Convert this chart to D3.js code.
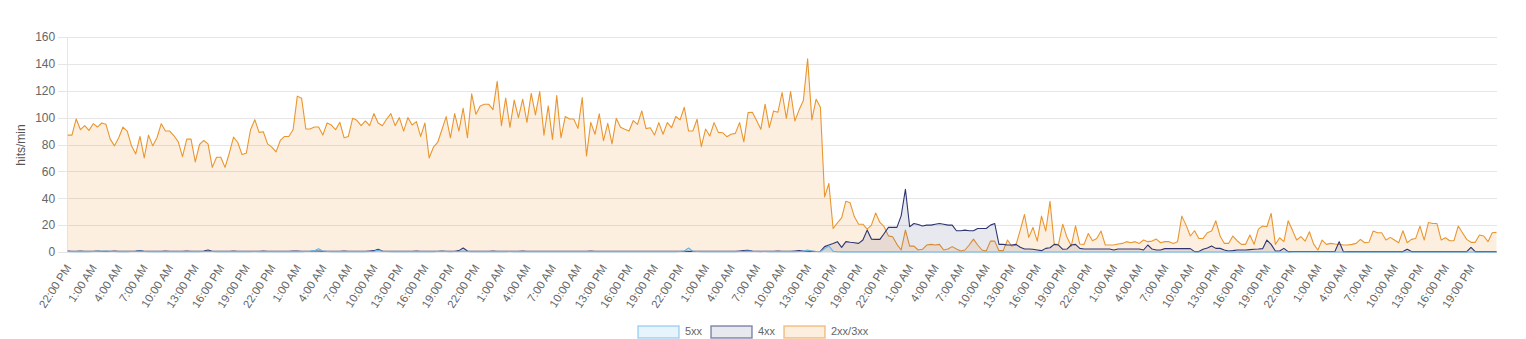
<!DOCTYPE html>
<html>
<head>
<meta charset="utf-8">
<script src="https://cdn.jsdelivr.net/npm/d3@7"></script>
<style>
  html, body { margin: 0; padding: 0; background: #fff; }
  svg { display: block; font-family: "Liberation Sans", Arial, Helvetica, sans-serif; }
</style>
</head>
<body>
<svg id="chart" width="1526" height="339"></svg>
<script>
// ---- tick labels (one every 3 hours, every 6th half-hour sample) ----
const hourLabels = ["22:00 PM","1:00 AM","4:00 AM","7:00 AM","10:00 AM","13:00 PM","16:00 PM","19:00 PM"];
const dayCount = 7;
const yTicks = [0, 20, 40, 60, 80, 100, 120, 140, 160];
const seriesNames = ["5xx", "4xx", "2xx/3xx"];

// ---- series values (hits/min, one sample every 30 minutes) ----
const ok2xx3xx = [
  87, 87, 99, 91, 94, 90.5, 95.5, 93, 96, 95,
  84, 79, 85, 93, 90, 79, 73, 86, 70, 87,
  79, 85, 95.5, 90, 90, 86.5, 82, 71, 84, 84,
  67, 80, 83, 80.5, 63, 70.5, 70.5, 63, 73.5, 85.5,
  81.5, 72.5, 73.5, 91, 98.5, 89, 89.5, 80.5, 78, 74.5,
  83, 86, 86, 91, 116, 114.5, 91.5, 91.5, 93, 93,
  87, 96, 94.5, 91, 96.5, 85, 86, 99.5, 98, 94,
  97.5, 94, 103, 96, 94, 99, 103, 94, 100, 90,
  100, 94.5, 97, 86, 96, 70, 78, 81.5, 91, 100.8,
  85, 103, 90, 107, 85, 117.7, 102.5, 108.7, 110, 110,
  106, 127, 94, 114.6, 92.8, 113, 100, 113.7, 96.5, 118,
  102, 119.4, 87, 108.7, 83.8, 116.4, 85, 100.8, 99, 99,
  92, 115, 71.4, 96.5, 87.6, 102.8, 82.8, 95.8, 80.4, 99.5,
  92.8, 91.3, 90, 97.8, 95, 105, 91.8, 92.5, 87, 96.3,
  87.6, 96.3, 92.5, 100.8, 98.3, 107.7, 90, 90, 98.8, 78.4,
  91.5, 86.3, 96.3, 89, 88.8, 85.8, 87.6, 88.3, 96.3, 82,
  103.7, 104, 97.8, 91.3, 110, 92.5, 105, 104, 118.7, 99.5,
  119.4, 97.5, 105.8, 112.7, 143.8, 98.3, 113.7, 107.7, 41, 51,
  17.5, 21.7, 25.4, 37.8, 36.6, 26.2, 20.7, 20.7, 17, 20,
  29, 22, 18.8, 12, 11.4, 5.7, 1.5, 16.3, 4.4, 4.4,
  1.5, 2, 5.2, 5.7, 5.2, 5.7, 1.5, 2.2, 4, 2.2,
  0.7, 1.5, 5.2, 9.6, 5.2, 1.5, 0.7, 8.1, 8.1, 1,
  1, 8.9, 4.4, 5.2, 16.3, 27.9, 10.9, 18.3, 8.1, 26.7,
  15.6, 37.8, 5.7, 5.7, 20.7, 10.9, 4.4, 19.5, 5.9, 5.7,
  13.8, 8.4, 10.1, 15.6, 5.2, 5.2, 5.2, 5.9, 6.4, 7.7,
  6.9, 7.7, 6.4, 8.9, 7.7, 8.1, 9.6, 6.9, 7.7, 7.7,
  6.4, 7.7, 26.7, 20, 11.9, 15.8, 10.1, 10.1, 14.3, 15.6,
  23.2, 11.9, 6.4, 6.4, 11.9, 8.4, 5.7, 5.7, 12.6, 5.7,
  17, 19.3, 18.8, 28.7, 5.7, 10.6, 7.7, 23.2, 16.3, 8.9,
  11.4, 8.1, 15.1, 5.9, 1.5, 8.9, 5.7, 6.4, 5.9, 5.7,
  5.2, 5.2, 5.7, 6.4, 9.4, 6.9, 7.2, 15.6, 14.3, 14.3,
  8.9, 10.9, 8.9, 6.9, 15.8, 6.9, 9.4, 10.1, 19.3, 8.9,
  22, 21.2, 21.2, 8.9, 10.6, 8.4, 8.4, 19.3, 14.3, 9.4,
  7.2, 7.2, 12.6, 11.9, 7.7, 14.3, 14.6
];

const err4xx = [
  0.8, 0.6, 0.5, 0.7, 0.6, 0.5, 0.6, 0.8, 0.6, 0.5,
  0.6, 0.7, 0.5, 0.6, 0.6, 0.5, 0.7, 1.0, 0.6, 0.5,
  0.6, 0.5, 0.6, 0.7, 0.5, 0.6, 0.5, 0.6, 0.7, 0.5,
  0.6, 0.5, 0.8, 1.5, 0.6, 0.5, 0.6, 0.5, 0.6, 0.7,
  0.5, 0.6, 0.5, 0.6, 0.6, 0.5, 0.7, 0.6, 0.5, 0.6,
  0.6, 0.5, 0.6, 0.7, 0.8, 0.6, 0.5, 0.6, 0.7, 0.8,
  0.6, 0.5, 0.6, 0.5, 0.6, 0.7, 0.6, 0.5, 0.6, 0.5,
  0.6, 0.8, 1.0, 2.0, 0.8, 0.6, 0.5, 0.6, 0.5, 0.6,
  0.6, 0.5, 0.7, 0.6, 0.5, 0.6, 0.5, 0.6, 0.7, 0.6,
  0.5, 0.6, 1.0, 3.0, 0.8, 0.6, 0.5, 0.6, 0.5, 0.6,
  0.7, 0.6, 0.5, 0.6, 0.6, 0.5, 0.6, 0.7, 0.6, 0.5,
  0.6, 0.5, 0.6, 0.6, 0.5, 0.6, 0.6, 0.5, 0.6, 0.5,
  0.6, 0.5, 0.6, 0.7, 0.6, 0.5, 0.6, 0.5, 0.6, 0.6,
  0.5, 0.6, 0.5, 0.6, 0.5, 0.6, 0.6, 0.5, 0.6, 0.5,
  0.6, 0.5, 0.6, 0.5, 0.6, 0.6, 0.5, 0.6, 0.5, 0.6,
  0.5, 0.6, 0.5, 0.6, 0.5, 0.6, 0.6, 0.5, 0.8, 1.0,
  1.2, 0.8, 0.6, 0.5, 0.6, 0.5, 0.6, 0.7, 0.6, 0.5,
  0.6, 0.8, 1.0, 0.8, 0.6, 0.5, 0.4, 0.5, 4, 5.2,
  6.4, 7.7, 3.5, 7.7, 7.2, 6.9, 6.4, 8.9, 16.3, 9.6,
  9.4, 9.4, 13.8, 18.3, 18.3, 18.3, 26.9, 46.7, 18.8, 21.2,
  20.5, 19.3, 20, 20, 20.7, 21.2, 20.7, 20, 20, 15.8,
  15.8, 16.3, 15.8, 15.8, 17.5, 17.5, 17.5, 20, 21.2, 5.7,
  5.7, 5.2, 5.2, 5.7, 3.5, 2.2, 2.2, 2, 1.5, 1,
  2.7, 3.2, 5.7, 5.2, 2, 2.2, 5.2, 5.7, 2.7, 2.2,
  2.2, 2.2, 2.2, 2.2, 2.2, 2.2, 1.5, 2.2, 2.2, 2.2,
  2.2, 2.2, 2.2, 1.5, 5.2, 2.2, 1.5, 1.5, 2.5, 2.5,
  2.5, 2.5, 2.5, 2.5, 2.5, 0.3, 0.3, 2, 3, 4.4,
  2.7, 2.7, 1.5, 0.7, 1, 1.5, 1.5, 1.5, 1.8, 2,
  2.2, 2.5, 8.9, 5.7, 0.7, 0.7, 2.7, 0.3, 0.4, 0.4,
  0.4, 0.4, 0.4, 0.4, 0.4, 0.4, 0.4, 0.4, 0.4, 7.7,
  0.2, 0.3, 0.3, 0.3, 0.3, 0.3, 0.3, 0.3, 0.3, 0.3,
  0.3, 0.3, 0.3, 0.3, 0.3, 2, 0.3, 0.3, 0.3, 0.3,
  0.3, 0.3, 0.3, 0.3, 0.3, 0.3, 0.3, 0.3, 0.3, 0.3,
  3.5, 0.3, 0.3, 0.3, 0.3, 0.3, 0.3
];

const err5xx = [
  0.4, 0.3, 0.4, 0.3, 0.4, 0.3, 0.4, 0.5, 0.6, 0.8,
  0.5, 0.4, 0.3, 0.4, 0.3, 0.4, 0.5, 0.8, 0.4, 0.3,
  0.4, 0.3, 0.4, 0.3, 0.4, 0.3, 0.4, 0.3, 0.4, 0.3,
  0.4, 0.3, 0.4, 0.5, 0.4, 0.3, 0.4, 0.3, 0.4, 0.3,
  0.4, 0.3, 0.4, 0.3, 0.4, 0.3, 0.4, 0.3, 0.4, 0.3,
  0.4, 0.3, 0.4, 0.3, 0.4, 0.3, 0.4, 0.5, 1.0, 2.5,
  0.8, 0.4, 0.3, 0.4, 0.3, 0.4, 0.3, 0.4, 0.3, 0.4,
  0.3, 0.4, 0.6, 1.2, 0.5, 0.4, 0.3, 0.4, 0.3, 0.4,
  0.3, 0.4, 0.3, 0.4, 0.3, 0.4, 0.3, 0.4, 0.5, 0.4,
  0.3, 0.4, 0.5, 0.8, 0.4, 0.3, 0.4, 0.3, 0.4, 0.3,
  0.4, 0.3, 0.4, 0.3, 0.4, 0.3, 0.4, 0.3, 0.4, 0.3,
  0.4, 0.3, 0.4, 0.3, 0.4, 0.3, 0.4, 0.3, 0.4, 0.3,
  0.4, 0.3, 0.4, 0.3, 0.4, 0.3, 0.4, 0.3, 0.4, 0.3,
  0.4, 0.3, 0.4, 0.3, 0.4, 0.3, 0.4, 0.3, 0.4, 0.3,
  0.4, 0.3, 0.4, 0.3, 0.4, 0.8, 3.0, 0.6, 0.4, 0.3,
  0.4, 0.3, 0.4, 0.3, 0.4, 0.3, 0.4, 0.3, 0.4, 0.5,
  0.8, 0.5, 0.4, 0.3, 0.4, 0.3, 0.4, 0.3, 0.4, 0.3,
  0.4, 0.3, 0.4, 0.8, 1.5, 0.8, 0.4, 0.3, 2.5, 4.5,
  0.5, 0.2, 0.1, 0.1, 0.1, 0.1, 0.1, 0.1, 0.1, 0.1,
  0.1, 0.1, 0.1, 0.1, 0.1, 0.1, 0.1, 0.1, 0.1, 0.1,
  0, 0, 0, 0, 0, 0, 0, 0, 0, 0,
  0, 0, 0, 0, 0, 0, 0, 0, 0, 0,
  0, 0, 0, 0, 0, 0, 0, 0, 0, 0,
  0, 0, 0, 0, 0, 0, 0, 0, 0, 0,
  0, 0, 0, 0, 0, 0, 0, 0, 0, 0,
  0, 0, 0, 0, 0, 0, 0, 0, 0, 0,
  0, 0, 0, 0, 0, 0, 0, 0, 0, 0,
  0, 0, 0, 0, 0, 0, 0, 0, 0, 0,
  0, 0, 0, 0, 0, 0, 0, 0, 0, 0,
  0, 0, 0, 0, 0, 0, 0, 0, 0, 0,
  0, 0, 0, 0, 0, 0, 0, 0, 0, 0,
  0, 0, 0, 0, 0, 0, 0, 0, 0, 0,
  0, 0, 0, 0, 0, 0, 0, 0, 0, 0,
  0, 0, 0, 0, 0, 0, 0
];

// ---- layout / style ----
const margin = { left: 67.7, right: 1496.5, top: 37, bottom: 252 };
const colors = {
  "5xx":     { line: "#64b5e9", fill: "rgba(99,180,232,0.15)" },
  "4xx":     { line: "#2d3572", fill: "rgba(44,53,112,0.11)" },
  "2xx/3xx": { line: "#e9962f", fill: "rgba(240,150,50,0.15)" }
};
const textColor = "#666";
const gridColor = "#e6e6e6";

const n = ok2xx3xx.length;
const labels = [];
for (let d = 0; d < dayCount; d++) hourLabels.forEach(h => labels.push(h));

const svg = d3.select("#chart");
const x = d3.scaleLinear().domain([0, n - 1]).range([margin.left, margin.right]);
const y = d3.scaleLinear().domain([0, 160]).range([margin.bottom, margin.top]);

// grid lines + y tick labels
const yAxis = d3.axisLeft(y).tickValues(yTicks).tickSize(-(margin.right - margin.left)).tickPadding(0);
const gy = svg.append("g").attr("transform", `translate(${margin.left},0)`).call(yAxis);
gy.select(".domain").remove();
gy.selectAll(".tick line").attr("stroke", gridColor).attr("x1", -9.7).attr("shape-rendering", "crispEdges");
gy.selectAll(".tick text").attr("x", -12.5).attr("fill", textColor)
  .style("font-size", "12px").style("font-family", "'Liberation Sans', Arial, sans-serif");

// left axis line
svg.append("line").attr("x1", margin.left).attr("x2", margin.left)
  .attr("y1", margin.top).attr("y2", margin.bottom)
  .attr("stroke", gridColor).attr("shape-rendering", "crispEdges");

// y-axis title
svg.append("text").attr("transform", `translate(25,145) rotate(-90)`)
  .attr("text-anchor", "middle").attr("fill", "#555")
  .style("font-size", "12px").text("hits/min");

// x tick labels via axis
const tickIdx = labels.map((_, i) => i * 6);
const xAxis = d3.axisBottom(x).tickValues(tickIdx).tickSize(0)
  .tickFormat((d, i) => labels[i]);
const gx = svg.append("g").attr("transform", `translate(0,${margin.bottom})`).call(xAxis);
gx.select(".domain").remove();
gx.selectAll(".tick text")
  .attr("fill", textColor)
  .style("font-size", "11.5px").style("font-family", "'Liberation Sans', Arial, sans-serif")
  .attr("text-anchor", "end")
  .attr("dy", null).attr("y", null)
  .attr("transform", "translate(1,14) rotate(-57)")
  .attr("dominant-baseline", "middle");

// series (draw 2xx/3xx first, then 4xx, then 5xx on top)
const seriesData = { "5xx": err5xx, "4xx": err4xx, "2xx/3xx": ok2xx3xx };
const area = d3.area().x((d, i) => x(i)).y0(y(0)).y1(d => y(d));
const line = d3.line().x((d, i) => x(i)).y(d => y(d));
["2xx/3xx", "4xx", "5xx"].forEach(name => {
  const vals = seriesData[name];
  svg.append("path").attr("d", area(vals)).attr("fill", colors[name].fill);
  svg.append("path").attr("d", line(vals)).attr("fill", "none")
    .attr("stroke", colors[name].line).attr("stroke-width", 1.1)
    .attr("stroke-linejoin", "round");
});

// legend
const legX = [638, 711, 784];
seriesNames.forEach((name, i) => {
  const g = svg.append("g").attr("transform", `translate(${legX[i]},326)`);
  g.append("rect").attr("width", 41).attr("height", 12)
    .attr("fill", colors[name].fill).attr("stroke", colors[name].line)
    .attr("stroke-opacity", 0.55).attr("stroke-width", 1.5);
  g.append("text").attr("x", 47).attr("y", 6.5).attr("dominant-baseline", "middle")
    .attr("fill", textColor).style("font-size", "11px").text(name);
});
</script>
</body>
</html>
